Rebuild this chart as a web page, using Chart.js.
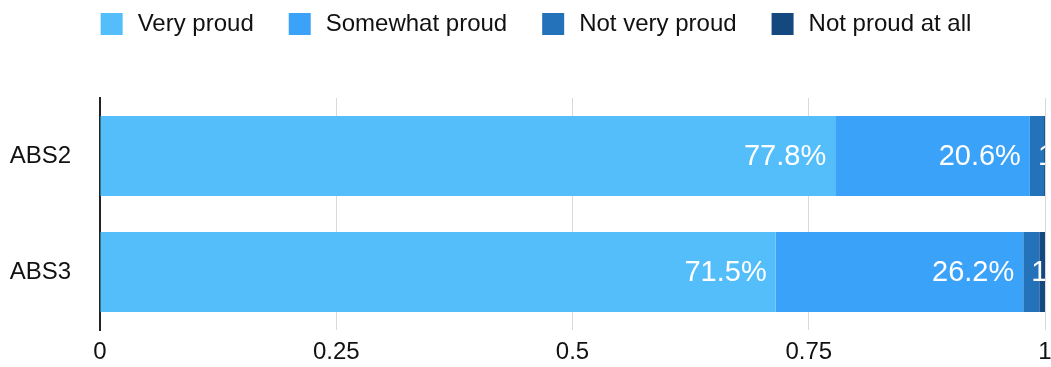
<!DOCTYPE html>
<html><head><meta charset="utf-8">
<script src="https://cdn.jsdelivr.net/npm/chart.js@4.4.1/dist/chart.umd.min.js"></script>
<style>html,body{margin:0;padding:0;background:#fff;} #wrap{width:1051px;height:367px;position:relative;}</style>
</head><body><div id="wrap"><canvas id="c"></canvas></div>
<script>
const categories = ['ABS2', 'ABS3'];
const seriesNames = ['Very proud', 'Somewhat proud', 'Not very proud', 'Not proud at all'];
const veryProud = [0.778, 0.715];
const somewhatProud = [0.206, 0.262];
const notVeryProud = [0.015, 0.017];
const notProudAtAll = [0.001, 0.006];
const xTickLabels = ['0', '0.25', '0.5', '0.75', '1'];
const seriesColors = ['#54BEFB', '#3AA2F8', '#2372BA', '#15487F'];

const FONT = "'Liberation Sans', Arial, Helvetica, sans-serif";
Chart.defaults.font.family = FONT;
Chart.defaults.color = '#000';

const seriesValues = [veryProud, somewhatProud, notVeryProud, notProudAtAll];

const legendTweak = {
  id: 'legendTweak',
  beforeLayout(chart) {
    const lg = chart.legend;
    if (!lg || lg._tweaked) return;
    lg._tweaked = true;
    const origFit = lg.fit;
    lg.fit = function () { origFit.call(this); this.height = 98; };
    const origDraw = lg.draw;
    lg.draw = function () {
      const ctx = this.ctx;
      ctx.save();
      ctx.translate(12, -22);
      origDraw.apply(this, arguments);
      ctx.restore();
    };
  }
};

const barLabels = {
  id: 'barLabels',
  afterDatasetsDraw(chart) {
    const ctx = chart.ctx;
    const area = chart.chartArea;
    ctx.save();
    ctx.beginPath();
    ctx.rect(area.left, area.top, area.right - area.left, area.bottom - area.top);
    ctx.clip();
    ctx.font = '29px ' + FONT;
    ctx.fillStyle = '#fff';
    ctx.textBaseline = 'middle';
    chart.data.datasets.forEach((ds, di) => {
      const meta = chart.getDatasetMeta(di);
      meta.data.forEach((bar, i) => {
        const v = ds.data[i];
        const txt = (v * 100).toFixed(1) + '%';
        const left = Math.min(bar.x, bar.base);
        const right = Math.max(bar.x, bar.base);
        const w = ctx.measureText(txt).width;
        if (w + 18 <= right - left) {
          ctx.textAlign = 'right';
          ctx.fillText(txt, right - 9, bar.y + 1);
        } else {
          ctx.textAlign = 'left';
          ctx.fillText(txt, left + 8, bar.y + 1);
        }
      });
    });
    ctx.restore();
  }
};

new Chart(document.getElementById('c'), {
  type: 'bar',
  data: {
    labels: categories,
    datasets: seriesNames.map((name, k) => ({
      label: name,
      data: seriesValues[k],
      backgroundColor: seriesColors[k],
      borderWidth: 0,
      categoryPercentage: 1,
      barPercentage: 0.69
    }))
  },
  options: {
    indexAxis: 'y',
    responsive: true,
    maintainAspectRatio: false,
    animation: false,
    layout: { padding: { left: 0, right: 6, top: 0, bottom: 0 } },
    plugins: {
      tooltip: { enabled: false },
      legend: {
        position: 'top',
        align: 'center',
        labels: {
          font: { size: 24, family: FONT },
          color: '#111',
          boxWidth: 28,
          boxHeight: 28,
          padding: 32,
          generateLabels(chart) {
            return chart.data.datasets.map((ds, i) => ({
              text: ds.label,
              fillStyle: ds.backgroundColor,
              strokeStyle: '#ffffff',
              lineWidth: 6,
              hidden: false,
              datasetIndex: i,
              fontColor: '#111'
            }));
          }
        }
      }
    },
    scales: {
      x: {
        stacked: true,
        min: 0,
        max: 1,
        position: 'bottom',
        ticks: {
          stepSize: 0.25,
          padding: 8,
          font: { size: 24, family: FONT },
          color: '#111',
          maxRotation: 0,
          callback: (v, i) => xTickLabels[i]
        },
        grid: { color: '#d9d9d9', lineWidth: 1, drawTicks: false },
        border: { display: false },
        afterFit(scale) { scale.height = 37; scale.paddingRight = 6; scale.paddingLeft = 0; }
      },
      y: {
        stacked: true,
        ticks: { padding: 29, font: { size: 24, family: FONT }, color: '#111' },
        grid: { display: false, drawTicks: false },
        border: { display: true, color: '#222', width: 2 },
        afterFit(scale) { scale.width = 100; scale.paddingTop = 0; scale.paddingBottom = 0; }
      }
    }
  },
  plugins: [legendTweak, barLabels]
});
</script>
</body></html>
